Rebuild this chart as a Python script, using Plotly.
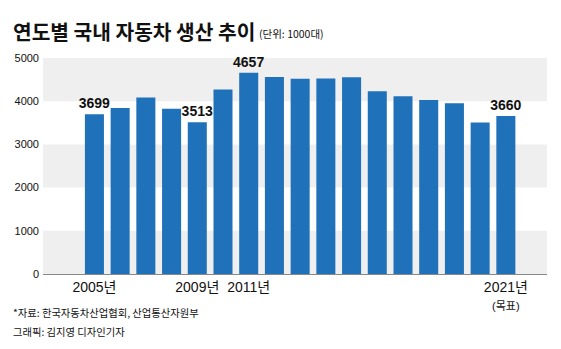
import plotly.graph_objects as go

# Domestic car production by year (unit: 1000 vehicles); 2021 is a target
years = [2005, 2006, 2007, 2008, 2009, 2010, 2011, 2012, 2013,
         2014, 2015, 2016, 2017, 2018, 2019, 2020, 2021]
production = [3699, 3840, 4086, 3827, 3513, 4272, 4657, 4562, 4521,
              4524, 4556, 4229, 4115, 4029, 3951, 3507, 3660]
labelled_years = [2005, 2009, 2011, 2021]
tick_years = [2005, 2009, 2011, 2021]
tick_text = ["2005년", "2009년", "2011년",
             "2021년<br><span style='font-size:11px'>(목표)</span>"]
y_ticks = [0, 1000, 2000, 3000, 4000, 5000]

BAR = "#1f72b9"
BAND = "#efefef"
KFONT = "Noto Sans CJK KR"
NFONT = "Liberation Sans, Arial, Noto Sans CJK KR"

bar_text = [str(v) if y in labelled_years else "" for y, v in zip(years, production)]

fig = go.Figure(go.Bar(
    x=years, y=production, width=0.74,
    marker=dict(color=BAR, line=dict(width=0)),
    text=bar_text, textposition="outside", constraintext="none",
    textfont=dict(family=NFONT, size=14, color="#111"),
    texttemplate="<b>%{text}</b>",
    cliponaxis=False,
))

# alternating light bands behind the bars
shapes = []
for lo in (0, 2000, 4000):
    shapes.append(dict(type="rect", xref="paper", yref="y", x0=0, x1=1,
                       y0=lo, y1=lo + 1000, fillcolor=BAND, line=dict(width=0),
                       layer="below"))

fig.update_layout(
    width=561, height=349,
    margin=dict(l=43, r=14, t=58, b=75),
    paper_bgcolor="white", plot_bgcolor="white",
    showlegend=False, shapes=shapes,
    xaxis=dict(range=[2003, 2022.6], tickmode="array", tickvals=tick_years,
               ticktext=tick_text, showgrid=False, zeroline=False,
               showline=True, linecolor="#888", linewidth=1, ticks="",
               tickfont=dict(family=NFONT, size=14, color="#111")),
    yaxis=dict(range=[0, 5000], tickmode="array", tickvals=y_ticks,
               showgrid=False, zeroline=False, showline=False, ticks="",
               ticklabelstandoff=3,
               tickfont=dict(family=NFONT, size=11, color="#111")),
    annotations=[
        dict(text="<b>연도별 국내 자동차 생산 추이</b>", xref="paper", yref="paper",
             x=(11 - 43) / 504, y=1 + (58 - 31) / 216, xanchor="left", yanchor="middle",
             showarrow=False, font=dict(family=KFONT, size=20.3, color="#111")),
        dict(text="(단위: 1000대)", xref="paper", yref="paper",
             x=(257 - 43) / 504, y=1 + (58 - 33) / 216, xanchor="left", yanchor="middle",
             showarrow=False, font=dict(family=KFONT, size=10.5, color="#111")),
        dict(text="*자료: 한국자동차산업협회, 산업통산자원부", xref="paper", yref="paper",
             x=(11 - 43) / 504, y=-(312 - 274) / 216, xanchor="left", yanchor="middle",
             showarrow=False, font=dict(family=KFONT, size=10.3, color="#111")),
        dict(text="그래픽: 김지영 디자인기자", xref="paper", yref="paper",
             x=(11 - 43) / 504, y=-(331 - 274) / 216, xanchor="left", yanchor="middle",
             showarrow=False, font=dict(family=KFONT, size=10.3, color="#111")),
    ],
)

fig.write_html("out.html")
